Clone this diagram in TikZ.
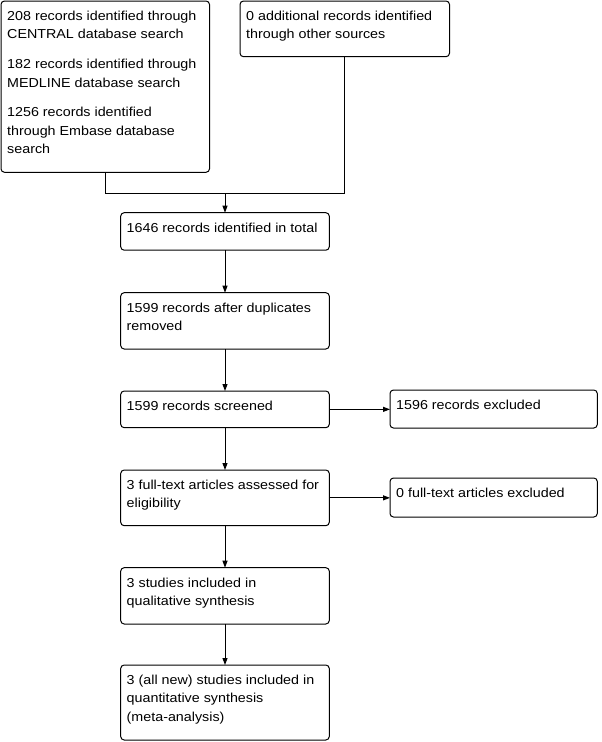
\documentclass[tikz,border=0pt]{standalone}
\usepackage{fontspec}
\setmainfont{Liberation Sans}[FakeStretch=1.1]
\usetikzlibrary{arrows.meta}
\begin{document}
\begin{tikzpicture}[x=1pt,y=-1pt,
  box/.style={draw=black, line width=1pt, rounded corners=3.5pt, inner sep=0pt, outer sep=0pt, anchor=north west},
  txt/.style={anchor=north west, inner sep=0pt, align=left, font=\fontsize{13}{18.3}\selectfont, text=black},
  conn/.style={draw=black, line width=1pt},
  arr/.style={conn, -{Triangle[length=7pt,width=5pt]}}]
\useasboundingbox (0,0) rectangle (602,742);
% boxes
\node[box, minimum width=208.5pt, minimum height=171.3pt] (A) at (1,1) {};
\node[box, minimum width=209.5pt, minimum height=55.7pt] (B) at (240,1) {};
\node[box, minimum width=208.6pt, minimum height=37.5pt] (C) at (120.7,212.7) {};
\node[box, minimum width=208.6pt, minimum height=56.3pt] (D) at (120.7,292.7) {};
\node[box, minimum width=208.6pt, minimum height=36.7pt] (E) at (120.7,391) {};
\node[box, minimum width=207.3pt, minimum height=38pt] (F) at (390,390) {};
\node[box, minimum width=208.6pt, minimum height=55.7pt] (G) at (120.7,470) {};
\node[box, minimum width=207.3pt, minimum height=39pt] (H) at (390,478) {};
\node[box, minimum width=208.6pt, minimum height=56.3pt] (I) at (120.7,567.7) {};
\node[box, minimum width=208.6pt, minimum height=75pt] (J) at (120.7,665) {};
% texts
\node[txt] (tA) at (7,11) {208 records identified through\\CENTRAL database search\\[11.5pt]182 records identified through\\MEDLINE database search\\[11.5pt]1256 records identified\\through Embase database\\search};
\node[txt] (tB) at (246,11) {0 additional records identified\\through other sources};
\node[txt] (tC) at (126.5,222.5) {1646 records identified in total};
\node[txt] (tD) at (126.5,302.5) {1599 records after duplicates\\removed};
\node[txt] (tE) at (126.5,400.5) {1599 records screened};
\node[txt] (tF) at (396,400) {1596 records excluded};
\node[txt] (tG) at (126.5,479.5) {3 full-text articles assessed for\\eligibility};
\node[txt] (tH) at (396,488) {0 full-text articles excluded};
\node[txt] (tI) at (126.5,577.5) {3 studies included in\\qualitative synthesis};
\node[txt] (tJ) at (126.5,675) {3 (all new) studies included in\\quantitative synthesis\\(meta-analysis)};
% connectors
\coordinate (m) at (C.north |- 0,193.3);
\draw[conn] (A.south) |- (m) -| (B.south);
\draw[arr] (m) -- (C.north);
\draw[arr] (C) -- (D);
\draw[arr] (D) -- (E);
\draw[arr] (E) -- (G);
\draw[arr] (G) -- (I);
\draw[arr] (I) -- (J);
\draw[arr] (E.east) -- (F.west |- E.east);
\draw[arr] (G.east) -- (H.west |- G.east);
\end{tikzpicture}
\end{document}
